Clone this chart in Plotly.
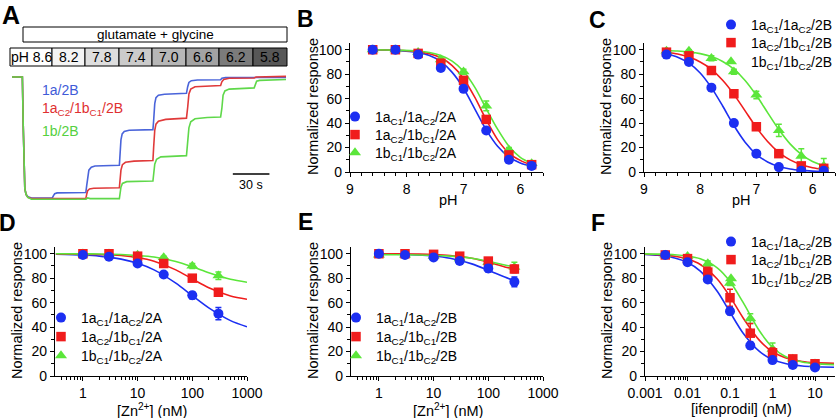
import plotly.graph_objects as go

FONT = "Arial, Liberation Sans, Helvetica, sans-serif"
W, H = 840, 418

# ---------------- data ----------------
# Panel A: current traces (time s, normalized current %)
t_blue = [0, 8.5, 9.2, 9.8, 10.5, 11.5, 13, 16, 33, 34, 35, 37, 60.5, 61.2, 62, 63, 65, 68, 88,
          88.5, 89.3, 90.3, 92, 96, 115.5, 116.1, 117, 118, 120, 125, 143, 144, 145, 147, 152, 171,
          172, 175, 224.6]
i_blue = [0, 0, -40, -80, -92, -97, -99, -100, -100, -98, -96.5, -95.8, -95.5, -90, -82, -77, -74.5,
          -73.5, -73, -65, -52, -47, -45, -44, -43.5, -36, -22, -17, -15, -14.2, -13.5, -8, -4.5, -3,
          -2.5, -2.2, -1, -0.5, -0.3]
t_red = [0, 8.5, 9.2, 9.8, 10.5, 11.5, 13, 16, 60.5, 61.2, 62, 63.5, 67, 88, 88.5, 89.3, 90.5, 93,
         100, 115.5, 116.1, 117, 118, 120, 126, 143, 144, 145, 146.5, 150, 171, 172, 173.5, 178,
         198.5, 200, 224.6]
i_red = [0, 0, -40, -80, -92, -97, -99.5, -100.5, -100.5, -97, -94, -92.5, -92, -91.5, -86, -77,
         -72.5, -70.5, -69.5, -69, -58, -44, -39, -36.5, -35, -34, -25, -14, -10, -8, -7, -4, -2, -1,
         -0.8, 0, 0.5]
t_green = [0, 8.5, 9.2, 9.8, 10.5, 11.5, 13, 16, 60.5, 62, 64, 88, 88.5, 89.3, 90.5, 94, 115.5,
           116.1, 117, 118.5, 122, 143, 144, 145, 146.5, 150, 160, 171, 172, 173, 174.5, 178, 198.5,
           199.5, 200.5, 203, 224.6]
i_green = [0, 0, -40, -80, -92, -97, -99.5, -101, -101, -100, -100.5, -100.5, -97, -91, -88, -86.5,
           -86, -81, -72, -68, -66, -65, -56, -42, -37, -34.5, -33.5, -33, -26, -15, -11.5, -10, -9,
           -6, -3.5, -2.8, -2]
trace_labels = ["1a/2B", "1a<sub>C2</sub>/1b<sub>C1</sub>/2B", "1b/2B"]
ph_bar_labels = ["pH 8.6", "8.2", "7.8", "7.4", "7.0", "6.6", "6.2", "5.8"]
ph_bar_fills = ["#ffffff", "#f4f4f4", "#dedede", "#cbcbcb", "#b7b7b7", "#a3a3a3", "#7b7b7b", "#575757"]

# Panels B, C: pH
ph = [8.6, 8.2, 7.8, 7.4, 7.0, 6.6, 6.2, 5.8]
B_blue = [100, 100, 96, 85, 68, 34, 10, 5]
B_red = [100, 100, 97, 89, 75, 43, 14, 6]
B_green = [100, 100, 98, 92, 82, 54, 18, 7]
B_blue_err = [1, 1, 1, 2, 2, 2, 1, 1]
B_red_err = [1, 1, 1, 2, 3, 3, 2, 1]
B_green_err = [1, 1, 1, 2, 2, 4, 2, 1]
ph_fitB = [8.6, 8.2, 7.8, 7.6, 7.4, 7.2, 7.0, 6.8, 6.6, 6.4, 6.2, 6.0, 5.8]
B_blue_fit = [100, 99.4, 97.6, 95.2, 90.3, 81.5, 68.5, 51.5, 34.4, 21, 12.3, 7.3, 4.6]
B_red_fit = [100, 99.6, 98.4, 96.7, 93.4, 87, 76.5, 61, 42.7, 26.5, 15.5, 9.5, 5.5]
B_green_fit = [100, 99.7, 98.9, 97.7, 95.3, 90.7, 82.4, 69.2, 51.8, 35, 21, 12, 7]

C_blue = [96, 90, 69, 40, 15, 4, 1, 1]
C_red = [98, 95, 83, 64, 37, 15, 5, 3]
C_green = [99, 99, 93, 82, 63, 34, 13, 5]
C_blue_err = [1, 1, 2, 2, 2, 1, 1, 1]
C_red_err = [1, 1, 2, 2, 2, 2, 1, 2]
C_green_err = [1, 1, 2, 2, 3, 5, 6, 6]
ph_fitC = [8.6, 8.4, 8.2, 8.0, 7.8, 7.6, 7.4, 7.2, 7.0, 6.8, 6.6, 6.4, 6.2, 6.0, 5.8]
C_blue_fit = [96.7, 93.9, 89, 81, 69, 54, 38, 24.4, 14.5, 8.2, 4.5, 2.4, 1.3, 0.7, 0.4]
C_red_fit = [98, 96.5, 94, 90, 84, 75, 63.5, 50, 36.5, 24.9, 16, 9.9, 6, 3.5, 2]
C_green_fit = [99.4, 99, 98.2, 96.8, 94.4, 90.4, 84.2, 74.9, 62.7, 48.6, 34.7, 23, 14.4, 8.6, 5]

# Panels D, E: Zn2+ (nM)
zn = [1, 3, 10, 30, 100, 300]
D_blue = [99, 97.5, 92, 83, 66, 51]
D_red = [100, 100, 98, 92, 80, 68.5]
D_green = [100, 100, 99, 97, 90, 82]
D_blue_err = [1, 1, 2, 1, 3, 5]
D_red_err = [1, 1, 1, 2, 2, 2]
D_green_err = [1, 1, 1, 1, 2, 3]
zn_fitD = [0.32, 1, 2, 5, 10, 20, 50, 100, 200, 500, 1000]
D_blue_fit = [99.6, 98.9, 98.0, 95.6, 92.2, 86.8, 75.9, 65.7, 55.7, 45.3, 40.2]
D_red_fit = [99.9, 99.7, 99.4, 98.5, 96.9, 93.9, 86.8, 79.4, 72.2, 65.5, 62.8]
D_green_fit = [100, 99.9, 99.8, 99.4, 98.6, 97.3, 93.7, 89.4, 84.5, 79.1, 76.7]

E_blue = [100, 99, 97, 94, 88, 77]
E_red = [100, 100, 99.5, 98, 94, 87.5]
E_green = [99, 99, 98, 96, 93, 89]
E_blue_err = [1, 2, 1, 2, 3, 4]
E_red_err = [1, 1, 1, 1, 2, 3]
E_green_err = [1, 1, 1, 1, 2, 4]
zn_fitE = [1, 2, 5, 10, 20, 50, 100, 200, 300]
E_blue_fit = [99.8, 99.7, 99.1, 98.2, 96.3, 91.7, 86.5, 80.9, 78]
E_red_fit = [100, 99.9, 99.7, 99.4, 98.6, 96.3, 93.1, 89.2, 87.5]
E_green_fit = [99.3, 99.2, 99, 98.7, 98, 96.3, 93.8, 90.8, 89.2]

# Panel F: ifenprodil (nM)
ifen = [0.003, 0.01, 0.03, 0.1, 0.3, 1, 3, 10]
F_blue = [99, 93, 79, 53, 25, 13, 9, 7]
F_red = [99, 96, 85, 64, 35, 19, 14, 10]
F_green = [99, 98, 92, 76, 47, 22, 14, 10]
F_blue_err = [1, 2, 2, 3, 3, 2, 1, 1]
F_red_err = [2, 2, 4, 7, 8, 4, 2, 1]
F_green_err = [1, 1, 2, 2, 4, 5, 2, 1]
ifen_fit = [0.001, 0.002, 0.005, 0.01, 0.02, 0.05, 0.1, 0.2, 0.5, 1, 2, 5, 10, 28]
F_blue_fit = [99.4, 98.7, 96.5, 92.8, 85.8, 69.3, 52.2, 35.4, 19.9, 13.5, 10.2, 8.2, 7.6, 7.2]
F_red_fit = [99.6, 99.2, 97.9, 95.6, 91.2, 79.3, 64.9, 47.9, 28.9, 19.9, 14.9, 11.9, 10.9, 10.3]
F_green_fit = [99.9, 99.7, 99.2, 98.1, 95.8, 88.5, 77.3, 60.6, 36.6, 23.5, 15.9, 11.4, 10.1, 9.3]

names_2A = ["1a<sub>C1</sub>/1a<sub>C2</sub>/2A", "1a<sub>C2</sub>/1b<sub>C1</sub>/2A",
            "1b<sub>C1</sub>/1b<sub>C2</sub>/2A"]
names_2B = ["1a<sub>C1</sub>/1a<sub>C2</sub>/2B", "1a<sub>C2</sub>/1b<sub>C1</sub>/2B",
            "1b<sub>C1</sub>/1b<sub>C2</sub>/2B"]

# ---------------- style ----------------
COLORS = ["#1c2ff2", "#f01c1c", "#5be63a"]
SYMS = ["circle", "square", "triangle-up"]
SIZES = [10, 9.5, 10.5]
TRACE_COLORS = ["#4a64da", "#e03a3a", "#5fd84a"]
LEG_FONT = 14


def px(x):
    return x / W


def py(y):
    return 1 - y / H


fig = go.Figure()
legend_layout = {}


def leg_id(n):
    return "legend" if n == 1 else f"legend{n}"


def add_panel(idx, xs, data, errs, xfit, fits, names, leg_x, leg_rows):
    xa = "x" if idx == 1 else f"x{idx}"
    ya = "y" if idx == 1 else f"y{idx}"
    for k in range(3):
        fig.add_trace(go.Scatter(x=xfit, y=fits[k], mode="lines",
                                 line=dict(color=COLORS[k], width=1.6, shape="spline", smoothing=0.8),
                                 xaxis=xa, yaxis=ya, showlegend=False, hoverinfo="skip"))
    for k in [2, 1, 0]:
        lid = leg_id((idx - 1) * 3 + k + 1)
        legend_layout[lid] = dict(x=px(leg_x), y=py(leg_rows[k] - 16), xanchor="left",
                                  yanchor="top", bgcolor="rgba(0,0,0,0)", borderwidth=0,
                                  font=dict(size=LEG_FONT, family=FONT, color="black"),
                                  itemwidth=30)
        fig.add_trace(go.Scatter(x=xs, y=data[k], mode="markers", name=names[k],
                                 marker=dict(symbol=SYMS[k], size=SIZES[k], color=COLORS[k],
                                             line=dict(width=0)),
                                 error_y=dict(type="data", array=errs[k], color=COLORS[k],
                                              thickness=1.5, width=3),
                                 legend=lid, showlegend=True, xaxis=xa, yaxis=ya))


add_panel(1, ph, [B_blue, B_red, B_green], [B_blue_err, B_red_err, B_green_err], ph_fitB,
          [B_blue_fit, B_red_fit, B_green_fit], names_2A, 335, [117, 135, 153])
add_panel(2, ph, [C_blue, C_red, C_green], [C_blue_err, C_red_err, C_green_err], ph_fitC,
          [C_blue_fit, C_red_fit, C_green_fit], names_2B, 711, [25, 43, 62])
add_panel(3, zn, [D_blue, D_red, D_green], [D_blue_err, D_red_err, D_green_err], zn_fitD,
          [D_blue_fit, D_red_fit, D_green_fit], names_2A, 41, [318, 337, 356])
add_panel(4, zn, [E_blue, E_red, E_green], [E_blue_err, E_red_err, E_green_err], zn_fitE,
          [E_blue_fit, E_red_fit, E_green_fit], names_2B, 336, [318, 337, 356])
add_panel(5, ifen, [F_blue, F_red, F_green], [F_blue_err, F_red_err, F_green_err], ifen_fit,
          [F_blue_fit, F_red_fit, F_green_fit], names_2B, 711, [242, 260, 279])

# Panel A traces
for tt, ii, col in [(t_blue, i_blue, TRACE_COLORS[0]), (t_red, i_red, TRACE_COLORS[1]),
                    (t_green, i_green, TRACE_COLORS[2])]:
    fig.add_trace(go.Scatter(x=tt, y=ii, mode="lines", line=dict(color=col, width=1.6),
                             xaxis="x6", yaxis="y6", showlegend=False, hoverinfo="skip"))

# ---------------- axes ----------------
TICKFONT = dict(size=14, family=FONT, color="black")
AX = dict(showline=True, linecolor="black", linewidth=1.3, ticks="outside", ticklen=4,
          tickwidth=1.3, tickcolor="black", showgrid=False, zeroline=False, tickfont=TICKFONT,
          fixedrange=True)
MINOR = dict(ticks="outside", ticklen=2.5, tickwidth=1.1, tickcolor="black", showgrid=False)


def yaxis(dom, anchor):
    d = dict(AX)
    d.update(domain=dom, anchor=anchor, range=[0, 105.5], dtick=20, tick0=0,
             minor=dict(MINOR, dtick=10))
    return d


def ph_axis(dom, anchor):
    d = dict(AX)
    d.update(domain=dom, anchor=anchor, range=[9, 5.6], dtick=1, tick0=0,
             minor=dict(MINOR, dtick=0.2))
    return d


def log_axis(dom, anchor, rng, vals, texts):
    d = dict(AX)
    d.update(domain=dom, anchor=anchor, type="log", range=rng, tickmode="array", tickvals=vals,
             ticktext=texts, minor=dict(MINOR, dtick="D1"))
    return d


top_y = [py(172), py(43)]
bot_y = [py(376), py(247)]

layout = dict(
    width=W, height=H, margin=dict(l=0, r=0, t=0, b=0, autoexpand=False),
    paper_bgcolor="white", plot_bgcolor="rgba(0,0,0,0)",
    font=dict(family=FONT, color="black"),
    xaxis=ph_axis([px(350), px(543)], "y"),
    yaxis=yaxis(top_y, "x"),
    xaxis2=ph_axis([px(644), px(835)], "y2"),
    yaxis2=yaxis(top_y, "x2"),
    xaxis3=log_axis([px(55), px(247)], "y3", [-0.51, 3.0], [1, 10, 100, 1000],
                    ["1", "10", "100", "1000"]),
    yaxis3=yaxis(bot_y, "x3"),
    xaxis4=log_axis([px(351), px(543)], "y4", [-0.51, 3.0], [1, 10, 100, 1000],
                    ["1", "10", "100", "1000"]),
    yaxis4=yaxis(bot_y, "x4"),
    xaxis5=log_axis([px(645), px(835)], "y5", [-3, 1.47], [0.001, 0.01, 0.1, 1, 10],
                    ["0.001", "0.01", "0.1", "1", "10"]),
    yaxis5=yaxis(bot_y, "x5"),
    xaxis6=dict(domain=[px(10), px(287)], anchor="y6", range=[-1.64, 225.4], visible=False,
                fixedrange=True),
    yaxis6=dict(domain=[py(205), py(70)], anchor="x6", range=[-105.8, 5.8], visible=False,
                fixedrange=True),
    showlegend=True,
)
layout.update(legend_layout)
fig.update_layout(**layout)

# ---------------- annotations & shapes ----------------
ann = []
shapes = []


def text(x, y, s, size=14, color="black", xanchor="center", angle=0, bold=False, yref="paper",
         xref="paper"):
    if bold:
        s = "<b>" + s + "</b>"
    ann.append(dict(x=x, y=y, xref=xref, yref=yref, text=s, showarrow=False, xanchor=xanchor,
                    yanchor="middle", textangle=angle,
                    font=dict(size=size, family=FONT, color=color)))


# panel letters
for letter, (lx, ly), sz in [("A", (11, 15), 25), ("B", (305, 19), 23), ("C", (597, 20), 23),
                             ("D", (7, 223), 23), ("E", (305, 222), 23), ("F", (598, 223), 23)]:
    text(px(lx), py(ly), letter, size=sz, bold=True)

# axis titles
for (xc, yc) in [(313, 107), (606, 107), (17, 311), (313, 311), (607, 311)]:
    text(px(xc), py(yc), "Normalized response", size=14.5, angle=-90)
text(px(448), py(200), "pH", size=14.5)
text(px(741), py(200), "pH", size=14.5)
text(px(152), py(410), "[Zn<sup>2+</sup>] (nM)", size=14.5)
text(px(448), py(410), "[Zn<sup>2+</sup>] (nM)", size=14.5)
text(px(741), py(409), "[ifenprodil] (nM)", size=14.5)

# Panel A: application bars
shapes.append(dict(type="rect", xref="paper", yref="paper", x0=px(23), x1=px(287), y0=py(42),
                   y1=py(27), line=dict(color="black", width=1), fillcolor="white"))
text(px(155), py(34.5), "glutamate + glycine", size=13.5)
edges = [10, 52, 85, 119, 152, 186, 219, 253, 287]
for k, (lab, fc) in enumerate(zip(ph_bar_labels, ph_bar_fills)):
    shapes.append(dict(type="rect", xref="paper", yref="paper", x0=px(edges[k]),
                       x1=px(edges[k + 1]), y0=py(66), y1=py(48),
                       line=dict(color="black", width=1), fillcolor=fc))
    text(px((edges[k] + edges[k + 1]) / 2), py(57), lab, size=14)

# trace labels
for lab, col, yy in zip(trace_labels, ["#3f5bd8", "#e03030", "#55d040"], [90, 109, 131]):
    text(px(40), py(yy), lab, size=14, color=col, xanchor="left")

# scale bar
shapes.append(dict(type="line", xref="x6", yref="y6", x0=181, x1=211, y0=-80.2, y1=-80.2,
                   line=dict(color="black", width=1.6)))
text(196, -89, "30 s", size=12.5, xref="x6", yref="y6")

fig.update_layout(annotations=ann, shapes=shapes)
fig.write_html("out.html", config={"displayModeBar": False},
               post_script="document.body.style.margin='0px';document.body.style.padding='0px';")
